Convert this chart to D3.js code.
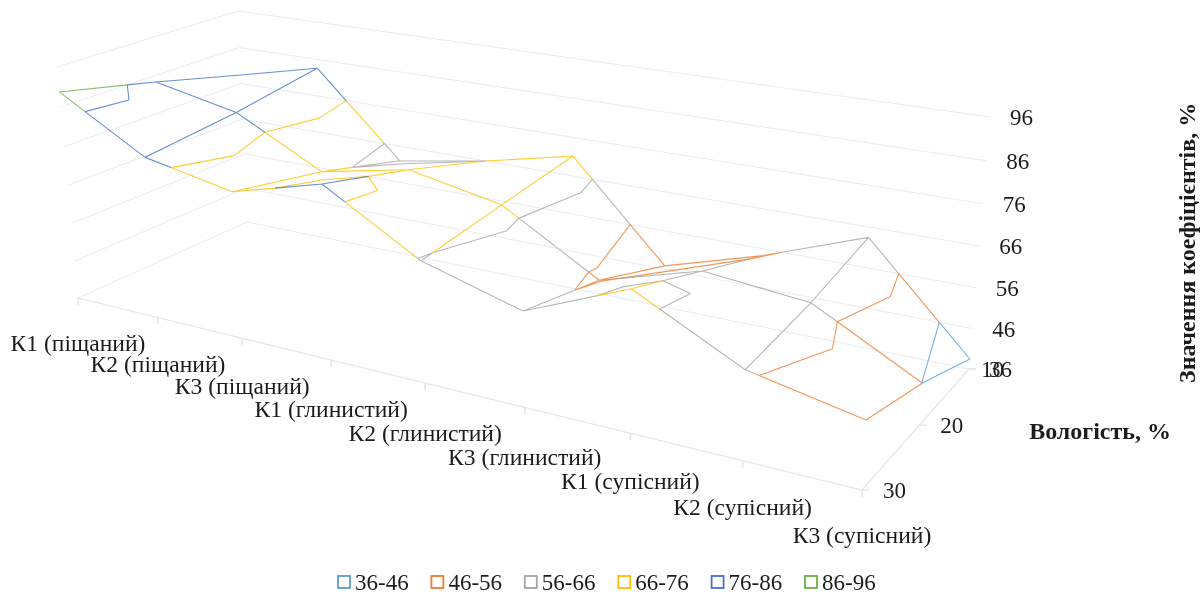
<!DOCTYPE html>
<html>
<head>
<meta charset="utf-8">
<style>
    html, body { margin: 0; padding: 0; background: #fff; }
    svg { filter: blur(0.35px); }
    text { font-family: "Liberation Serif", "Times New Roman", serif; fill: #1c1c1c; }
</style>
<script src="https://cdn.jsdelivr.net/npm/d3@7"></script>
</head>
<body>
<div id="chart"></div>
<script>
const categories = ["К1 (піщаний)", "К2 (піщаний)", "К3 (піщаний)", "К1 (глинистий)", "К2 (глинистий)", "К3 (глинистий)", "К1 (супісний)", "К2 (супісний)", "К3 (супісний)"];
const moisture = [30, 20, 10];
const valuesMoisture30 = [89.8, 77.3, 73.0, 79.2, 65.6, 58.9, 69.2, 56.6, 51.5];
const valuesMoisture20 = [84.3, 79.9, 68.4, 73.0, 68.5, 54.5, 61.7, 59.2, 45.9];
const valuesMoisture10 = [78.4, 83.6, 62.0, 65.9, 71.2, 46.9, 54.3, 63.5, 38.5];
const valueTicks = [36, 46, 56, 66, 76, 86, 96];
const bandLabels = ["36-46", "46-56", "56-66", "66-76", "76-86", "86-96"];
const bandColors = ["#5B9BD5", "#ED7D31", "#A5A5A5", "#FFC000", "#4472C4", "#70AD47"];

const width = 1203, height = 594;
const surface = [valuesMoisture30, valuesMoisture20, valuesMoisture10];

const svg = d3.select("#chart").append("svg")
    .attr("width", width)
    .attr("height", height);

// unit cube coordinates of the 3d box
const uScale = d3.scalePoint().domain(categories).range([0, 1]);
const vScale = d3.scaleLinear().domain([30, 10]).range([0, 1]);
const wScale = d3.scaleLinear().domain([36, 96]).range([0, 1]);

// maps the unit square onto a quad: front-left, front-right, back-right, back-left
function quadMap(q) {
    const [[x0, y0], [x1, y1], [x2, y2], [x3, y3]] = q;
    const dx1 = x1 - x2, dy1 = y1 - y2, dx2 = x3 - x2, dy2 = y3 - y2;
    const sx = x0 - x1 + x2 - x3, sy = y0 - y1 + y2 - y3;
    const det = dx1 * dy2 - dx2 * dy1;
    const g = (sx * dy2 - dx2 * sy) / det;
    const h = (dx1 * sy - sx * dy1) / det;
    return function(u, v) {
        const d = 1 + g * u + h * v;
        return [
            (x0 + (x1 - x0 + g * x1) * u + (x3 - x0 + h * x3) * v) / d,
            (y0 + (y1 - y0 + g * y1) * u + (y3 - y0 + h * y3) * v) / d
        ];
    };
}

const floorMap = quadMap([[78, 298], [862, 490], [969, 369], [247, 222]]);
const topMap = quadMap([[57, 67], [878, 209], [990, 117], [238, 11]]);

function project(u, v, w) {
    // perspective along the category axis is a bit weaker than the corners give
    const us = 1.028 * u / (1 + 0.028 * u);
    const a = floorMap(us, v), b = topMap(us, v);
    const f = w / (1 + 0.05 * (1 - w));
    return [a[0] + (b[0] - a[0]) * f, a[1] + (b[1] - a[1]) * f];
}

function projectPoint(p) {
    return project(p.u, p.v, wScale(p.value));
}

const line = d3.line();
const gridColor = "#e8ebf1";

// walls
const grid = svg.append("g").attr("fill", "none").attr("stroke", gridColor).attr("stroke-width", 1);
valueTicks.forEach(function(t) {
    const w = wScale(t);
    grid.append("path").attr("d", line([project(0, 0, w), project(0, 1, w), project(1, 1, w)]));
});

// floor axes and tick marks
const axis = svg.append("g").attr("fill", "none").attr("stroke", "#e2e6ef").attr("stroke-width", 1.2);
axis.append("path").attr("d", line([project(0, 0, 0), project(1, 0, 0), project(1, 1, 0)]));
categories.forEach(function(c) {
    const p = project(uScale(c), 0, 0);
    axis.append("path").attr("stroke-width", 1.6).attr("d", line([p, [p[0], p[1] + 7]]));
});
moisture.forEach(function(m) {
    const p = project(1, vScale(m), 0);
    axis.append("path").attr("stroke-width", 1.6).attr("d", line([p, [p[0] + 7, p[1]]]));
});

// tick labels
svg.append("g").selectAll("text").data(categories).join("text")
    .attr("x", function(d) { return project(uScale(d), 0, 0)[0]; })
    .attr("y", function(d) { return project(uScale(d), 0, 0)[1] + 53 + 4.5 * Math.sin(Math.PI * uScale(d)); })
    .attr("text-anchor", "middle")
    .style("font-size", "23.6px")
    .text(function(d) { return d; });

svg.append("g").selectAll("text").data(valueTicks).join("text")
    .attr("x", function(d) { return project(1, 1, wScale(d))[0] + 43; })
    .attr("y", function(d) { return project(1, 1, wScale(d))[1] + 8; })
    .attr("text-anchor", "end")
    .style("font-size", "23px")
    .text(function(d) { return d; });

svg.append("g").selectAll("text").data(moisture).join("text")
    .attr("x", function(d) { return project(1, vScale(d), 0)[0] + (d === 10 ? 12 : 21); })
    .attr("y", function(d) { return project(1, vScale(d), 0)[1] + 8; })
    .style("font-size", "23px")
    .text(function(d) { return d; });

// surface mesh and contour lines, one list of segments per band
const segments = bandLabels.map(function() { return []; });
const levels = valueTicks.slice(1, -1);

function node(i, j) {
    return { u: uScale(categories[i]), v: vScale(moisture[j]), value: surface[j][i] };
}

function lerp(a, b, t) {
    return {
        u: a.u + (b.u - a.u) * t,
        v: a.v + (b.v - a.v) * t,
        value: a.value + (b.value - a.value) * t
    };
}

function bandOf(value) {
    return Math.min(bandLabels.length - 1, Math.max(0, Math.floor((value - 36) / 10)));
}

// splits one mesh edge at the band borders
function addEdge(a, b) {
    const cuts = [0];
    levels.forEach(function(l) {
        if ((a.value - l) * (b.value - l) < 0) cuts.push((l - a.value) / (b.value - a.value));
    });
    cuts.push(1);
    cuts.sort(d3.ascending);
    d3.pairs(cuts).forEach(function(pair) {
        const p = lerp(a, b, pair[0]), q = lerp(a, b, pair[1]);
        segments[bandOf((p.value + q.value) / 2)].push([projectPoint(p), projectPoint(q)]);
    });
}

// contour pieces inside one triangle get the colour of the band below the level
function addTriangle(a, b, c) {
    levels.forEach(function(l, k) {
        const hits = [];
        [[a, b], [b, c], [c, a]].forEach(function(e) {
            if ((e[0].value - l) * (e[1].value - l) < 0) {
                hits.push(lerp(e[0], e[1], (l - e[0].value) / (e[1].value - e[0].value)));
            }
        });
        if (hits.length === 2) segments[k].push([projectPoint(hits[0]), projectPoint(hits[1])]);
    });
}

for (let j = 0; j < moisture.length; j++) {
    for (let i = 0; i < categories.length; i++) {
        if (i < categories.length - 1) addEdge(node(i, j), node(i + 1, j));
        if (j < moisture.length - 1) addEdge(node(i, j), node(i, j + 1));
        if (i < categories.length - 1 && j < moisture.length - 1) {
            const a = node(i, j), b = node(i + 1, j), c = node(i + 1, j + 1), d = node(i, j + 1);
            // the cell is folded along its higher diagonal
            if (a.value + c.value >= b.value + d.value) {
                addTriangle(a, b, c);
                addTriangle(a, c, d);
            } else {
                addTriangle(a, b, d);
                addTriangle(b, c, d);
            }
        }
    }
}

svg.append("g").attr("fill", "none").attr("stroke-width", 1.1).attr("stroke-opacity", 0.8)
    .selectAll("path").data(segments).join("path")
    .attr("stroke", function(d, i) { return bandColors[i]; })
    .attr("d", function(d) { return d.map(line).join(""); });

// axis titles
svg.append("text")
    .attr("x", 1171)
    .attr("y", 439)
    .attr("text-anchor", "end")
    .style("font-size", "24px")
    .style("font-weight", "bold")
    .text("Вологість, %");

svg.append("text")
    .attr("transform", "translate(1195,383) rotate(-90)")
    .style("font-size", "24px")
    .style("font-weight", "bold")
    .text("Значення коефіцієнтів, %");

// legend
const legendX = d3.scalePoint().domain(bandLabels).range([338, 805]);
const legend = svg.append("g").selectAll("g").data(bandLabels).join("g")
    .attr("transform", function(d) { return "translate(" + legendX(d) + ",576)"; });
legend.append("rect")
    .attr("width", 12)
    .attr("height", 12)
    .attr("fill", "none")
    .attr("stroke-width", 1.8)
    .attr("stroke", function(d, i) { return bandColors[i]; });
legend.append("text")
    .attr("x", 17)
    .attr("y", 14)
    .style("font-size", "23px")
    .text(function(d) { return d; });
</script>
</body>
</html>
